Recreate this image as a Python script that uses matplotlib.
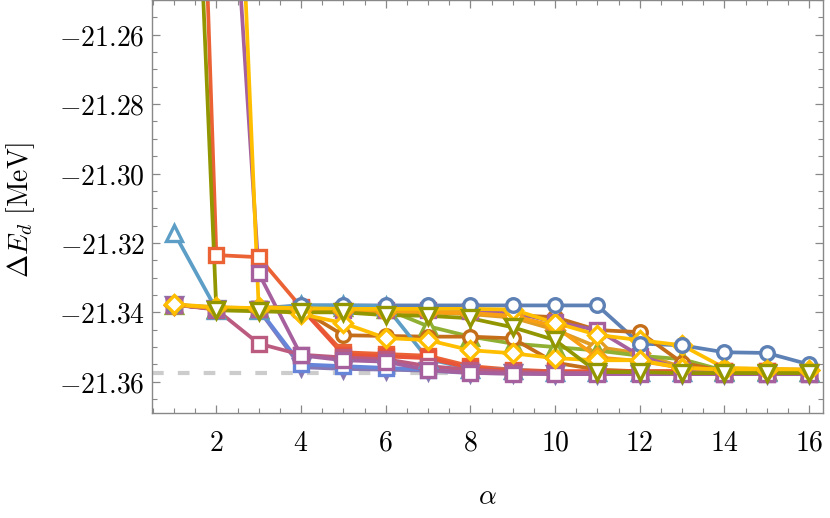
import numpy as np
import matplotlib
matplotlib.use("Agg")
import matplotlib.pyplot as plt
from matplotlib.ticker import MultipleLocator, FuncFormatter

plt.rcParams['mathtext.fontset'] = 'cm'
plt.rcParams['font.family'] = ['DejaVu Serif']

alpha = np.arange(1, 17)

# one list per run, values for alpha = 1..16
blue_circ = [-21.3378, -21.3386, -21.3388, -21.3380, -21.3380, -21.3380, -21.3380, -21.3380,
             -21.3380, -21.3380, -21.3380, -21.3490, -21.3495, -21.3515, -21.3517, -21.3550]
orange_dia = [-21.3378, -21.3388, -21.3390, -21.3385, -21.3390, -21.3395, -21.3400, -21.3405,
              -21.3415, -21.3450, -21.3500, -21.3518, -21.3558, -21.3562, -21.3563, -21.3565]
green_tri = [-21.3378, -21.3389, -21.3390, -21.3382, -21.3385, -21.3390, -21.3440, -21.3470,
             -21.3490, -21.3500, -21.3510, -21.3525, -21.3535, -21.3568, -21.3570, -21.3572]
red_sq = [-20.96, -21.3235, -21.3241, -21.3385, -21.3515, -21.3520, -21.3525, -21.3555,
          -21.3565, -21.3570, -21.3570, -21.3570, -21.3570, -21.3570, -21.3570, -21.3570]
purple_tri = [-21.3378, -21.3390, -21.3392, -21.3558, -21.3563, -21.3565, -21.3568, -21.3575,
              -21.3576, -21.3577, -21.3577, -21.3578, -21.3578, -21.3578, -21.3578, -21.3578]
brown_circ = [-21.3378, -21.3389, -21.3390, -21.3392, -21.3466, -21.3468, -21.3470, -21.3470,
              -21.3475, -21.3545, -21.3565, -21.3570, -21.3570, -21.3570, -21.3570, -21.3570]
lblue_tri = [-21.3170, -21.3392, -21.3392, -21.3380, -21.3380, -21.3382, -21.3535, -21.3562,
             -21.3566, -21.3572, -21.3572, -21.3572, -21.3572, -21.3572, -21.3572, -21.3572]
red2_sq = [-21.3378, -21.3390, -21.3390, -21.3388, -21.3522, -21.3527, -21.3532, -21.3560,
           -21.3568, -21.3570, -21.3570, -21.3570, -21.3570, -21.3570, -21.3570, -21.3570]
blue2_sq = [-21.3378, -21.3390, -21.3390, -21.3550, -21.3555, -21.3560, -21.3565, -21.3570,
            -21.3573, -21.3575, -21.3575, -21.3575, -21.3575, -21.3575, -21.3575, -21.3575]
pink_sq = [-21.3378, -21.3392, -21.3490, -21.3522, -21.3530, -21.3535, -21.3555, -21.3565,
           -21.3572, -21.3575, -21.3575, -21.3575, -21.3575, -21.3575, -21.3575, -21.3575]
brown2_circ = [-21.3378, -21.3389, -21.3390, -21.3390, -21.3390, -21.3390, -21.3392, -21.3395,
               -21.3408, -21.3414, -21.3451, -21.3457, -21.3545, -21.3570, -21.3570, -21.3570]
mag2_sq = [-21.3378, -21.3390, -21.3390, -21.3390, -21.3392, -21.3393, -21.3394, -21.3395,
           -21.3400, -21.3428, -21.3451, -21.3525, -21.3565, -21.3578, -21.3578, -21.3578]
mag_sq = [-20.90, -21.1397, -21.3287, -21.3524, -21.3538, -21.3542, -21.3566, -21.3574,
          -21.3577, -21.3578, -21.3578, -21.3578, -21.3578, -21.3578, -21.3578, -21.3578]
orange2_dia = [-21.3378, -21.3388, -21.3390, -21.3392, -21.3395, -21.3398, -21.3400, -21.3402,
               -21.3410, -21.3440, -21.3530, -21.3540, -21.3560, -21.3565, -21.3566, -21.3567]
yellow2_dia = [-20.90, -21.049, -21.3385, -21.3388, -21.3390, -21.3390, -21.3390, -21.3390,
               -21.3392, -21.3430, -21.3465, -21.3480, -21.3495, -21.3560, -21.3563, -21.3565]
yellow_dia = [-21.3377, -21.3385, -21.3388, -21.3405, -21.3431, -21.3474, -21.3480, -21.3509,
              -21.3518, -21.3532, -21.3538, -21.3538, -21.3560, -21.3565, -21.3565, -21.3567]
olive_tri = [-21.049, -21.3394, -21.3397, -21.3400, -21.3400, -21.3408, -21.3410, -21.3417,
             -21.3443, -21.3480, -21.3572, -21.3572, -21.3575, -21.3575, -21.3575, -21.3575]

# (colour, marker, values, marker layer)
series = [
    ('#5E81B5', 'o', blue_circ, 15.5),
    ('#E19C24', 'D', orange_dia, 1),
    ('#8FB032', '^', green_tri, 2),
    ('#EB6235', 's', red_sq, 3),
    ('#8778B3', 'v', purple_tri, 4),
    ('#C56E1A', 'o', brown_circ, 5),
    ('#5D9EC7', '^', lblue_tri, 6),
    ('#E95536', 's', red2_sq, 7),
    ('#6685D9', 's', blue2_sq, 8),
    ('#BC5B80', 's', pink_sq, 9),
    ('#C56E1A', 'o', brown2_circ, 10),
    ('#A5609D', 's', mag2_sq, 11),
    ('#A5609D', 's', mag_sq, 12),
    ('#F89F13', 'D', orange2_dia, 13),
    ('#FFBF00', 'D', yellow2_dia, 14),
    ('#FFBF00', 'D', yellow_dia, 16),
    ('#929600', 'v', olive_tri, 17),
]

msize = {'o': 9.8, 's': 9.4, 'D': 9.4, '^': 12, 'v': 12}

reference = -21.3575

fig = plt.figure(figsize=(8.3, 5.18), dpi=100)
ax = fig.add_axes([152 / 830, 1 - 413 / 518, 671 / 830, 413 / 518])

ax.axhline(reference, color='#cccccc', lw=3, ls=(0, (2.8, 3.4)), zorder=1)

# lines first, markers above all lines
for i, (c, m, vals, layer) in enumerate(series):
    ax.plot(alpha, vals, color=c, lw=2.7, zorder=2 + i * 0.01, solid_joinstyle='round')
for c, m, vals, layer in series:
    ax.plot(alpha, vals, ls='none', marker=m, ms=msize[m], mew=2.4, mec=c, mfc='white',
            zorder=3 + layer * 0.01)

ax.set_xlim(0.48, 16.33)
ax.set_ylim(-21.369, -21.25)

ax.xaxis.set_major_locator(MultipleLocator(2))
ax.xaxis.set_minor_locator(MultipleLocator(0.5))
ax.yaxis.set_major_locator(MultipleLocator(0.02))
ax.yaxis.set_minor_locator(MultipleLocator(0.005))
ax.xaxis.set_major_formatter(FuncFormatter(lambda v, p: f"${v:.0f}$"))
ax.yaxis.set_major_formatter(FuncFormatter(lambda v, p: f"${v:.2f}$"))

ax.tick_params(which='both', direction='in', top=True, right=True, color='#888888',
               labelsize=20, labelcolor='black')
ax.tick_params(which='major', length=6, width=0.9)
ax.tick_params(which='minor', length=3.5, width=0.8)
ax.tick_params(axis='x', pad=12)
ax.tick_params(axis='y', pad=5)
for s in ax.spines.values():
    s.set_color('#888888')
    s.set_linewidth(1.0)

fig.text(21 / 830, 1 - 210 / 518, r'$\Delta E_d\ [\mathrm{MeV}]$', rotation=90,
         ha='center', va='center', fontsize=20)
fig.text(487 / 830, 1 - 497 / 518, r'$\alpha$', ha='center', va='center', fontsize=20)

fig.savefig('out.png', dpi=100)
